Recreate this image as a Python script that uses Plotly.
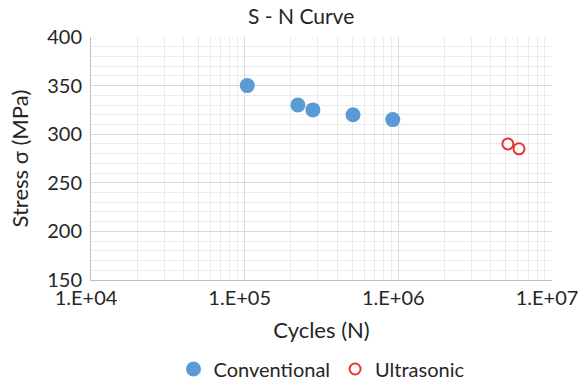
import plotly.graph_objects as go

# S-N fatigue data
conv_cycles = [1.04e5, 2.22e5, 2.78e5, 5.07e5, 9.2e5]
conv_stress = [350, 330, 325, 320, 315]
ultra_cycles = [5.16e6, 6.1e6]
ultra_stress = [290, 285]

x_tick_vals = [1e4, 1e5, 1e6, 1e7]
x_tick_text = ["1.E+04", "1.E+05", "1.E+06", "1.E+07"]
y_tick_vals = [150, 200, 250, 300, 350, 400]

FONT = "Lato, Open Sans, sans-serif"
TXT = "#262626"
BLUE = "#5b9bd5"
RED = "#e2362b"

minor_x = [m * 10 ** e for e in range(4, 7) for m in range(2, 10)]

fig = go.Figure()
fig.add_trace(go.Scatter(
    x=conv_cycles, y=conv_stress, mode="markers", name="Conventional",
    marker=dict(size=15, color=BLUE, line=dict(width=0)),
))
fig.add_trace(go.Scatter(
    x=ultra_cycles, y=ultra_stress, mode="markers", name="Ultrasonic",
    marker=dict(size=11, color="rgba(0,0,0,0)", line=dict(width=2, color=RED)),
))

fig.update_layout(
    width=578, height=380,
    margin=dict(l=91, r=26, t=37, b=100, autoexpand=False),
    paper_bgcolor="white", plot_bgcolor="white",
    font=dict(family=FONT, color=TXT, size=20),
    title=dict(text="S - N Curve", x=0.521, xanchor="center", y=0.955, yanchor="middle",
               font=dict(size=21, color=TXT)),
    showlegend=True,
    legend=dict(orientation="h", x=0.5, xanchor="center",
                yref="container", y=0.029, yanchor="middle",
                font=dict(size=20, color=TXT), itemwidth=30, tracegroupgap=0),
    xaxis=dict(
        type="log", range=[4, 7], automargin=False,
        tickvals=x_tick_vals, ticktext=x_tick_text,
        ticklabelshift=-5, ticklabeloverflow="allow",
        showgrid=True, gridcolor="#d9d9d9", gridwidth=1,
        minor=dict(tickvals=minor_x, showgrid=True, gridcolor="#ebebeb", gridwidth=1),
        showline=True, linecolor="#bfbfbf", linewidth=1,
        ticks="", zeroline=False,
        tickfont=dict(size=20, color=TXT),
        title=dict(text="Cycles (N)", font=dict(size=22, color=TXT), standoff=14),
    ),
    yaxis=dict(
        range=[150, 400], automargin=False,
        tickvals=y_tick_vals,
        showgrid=True, gridcolor="#d9d9d9", gridwidth=1,
        minor=dict(dtick=10, showgrid=True, gridcolor="#ebebeb", gridwidth=1),
        showline=True, linecolor="#bfbfbf", linewidth=1,
        ticks="", zeroline=False, ticklabelstandoff=4,
        tickfont=dict(size=20, color=TXT),
        title=dict(text="Stress σ (MPa)", font=dict(size=22, color=TXT), standoff=12),
    ),
)

fig.write_html("out.html")
